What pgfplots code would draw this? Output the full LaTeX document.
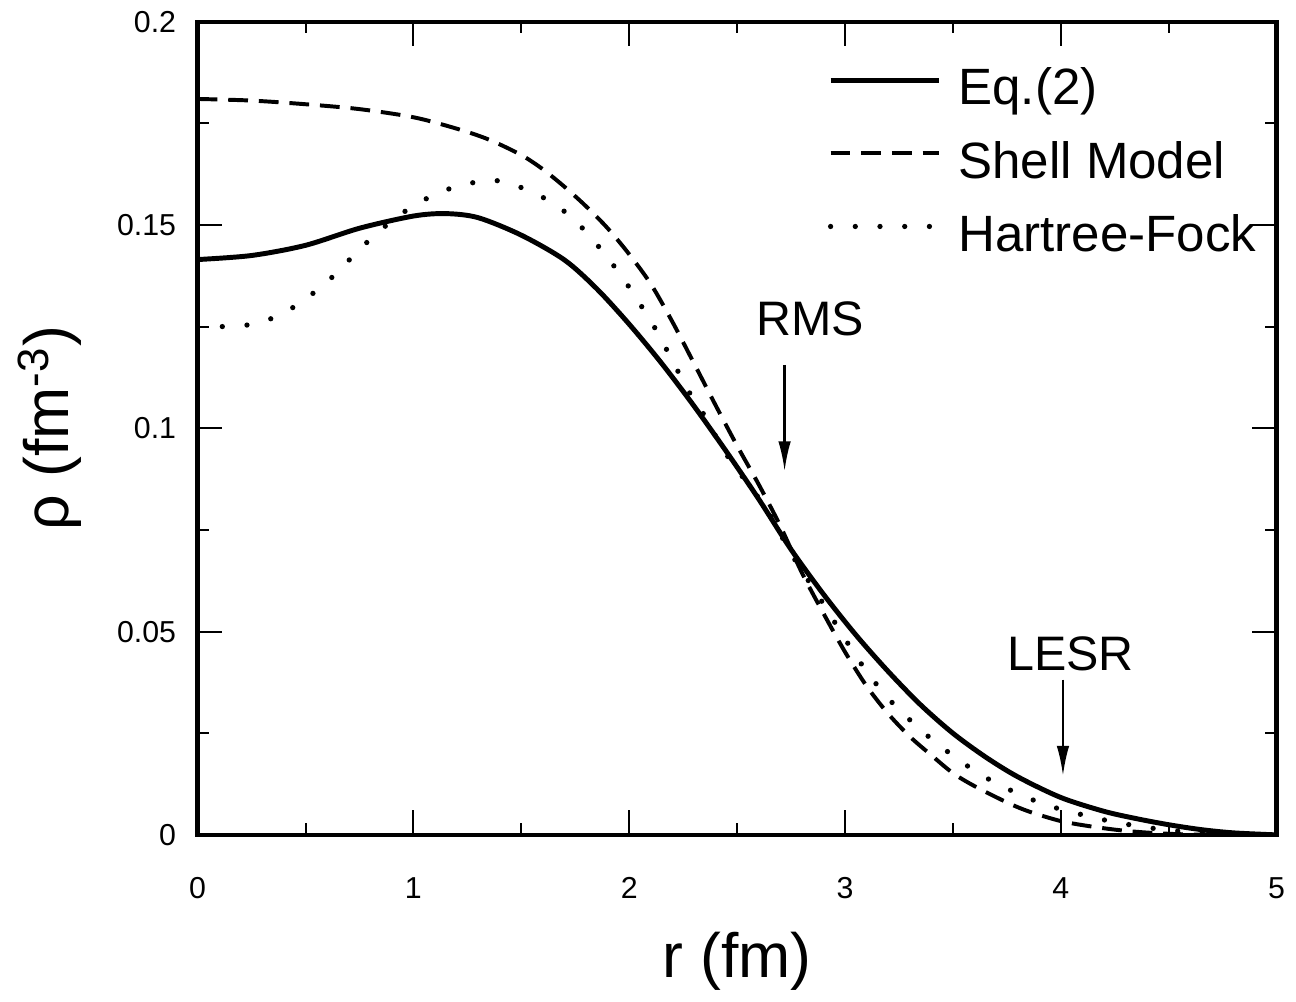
\documentclass[border=0pt]{standalone}
\usepackage{fontspec}
\setmainfont{Liberation Sans}
\usepackage{pgfplots}
\pgfplotsset{compat=1.18}
\usetikzlibrary{arrows.meta}

\pgfplotstableread{
x y
0.00 0.1415
0.25 0.1425
0.50 0.1450
0.75 0.1492
1.00 0.1522
1.15 0.1528
1.30 0.1518
1.50 0.1475
1.70 0.1414
1.85 0.1343
2.00 0.1256
2.15 0.1160
2.30 0.1055
2.45 0.0943
2.60 0.0826
2.75 0.0702
2.90 0.0592
3.05 0.0492
3.20 0.0402
3.35 0.0320
3.50 0.0250
3.65 0.0192
3.80 0.0143
4.00 0.0092
4.20 0.0058
4.35 0.0040
4.50 0.0025
4.65 0.0013
4.80 0.0005
5.00 0.0000
}\eqtwo

\pgfplotstableread{
x y
0.00 0.1810
0.25 0.1806
0.50 0.1797
0.75 0.1785
1.00 0.1765
1.20 0.1737
1.35 0.1710
1.50 0.1672
1.60 0.1637
1.70 0.1594
1.80 0.1546
1.90 0.1492
2.00 0.1428
2.10 0.1355
2.20 0.1262
2.30 0.1160
2.40 0.1057
2.50 0.0957
2.60 0.0862
2.70 0.0760
2.80 0.0645
2.90 0.0545
3.00 0.0450
3.10 0.0366
3.20 0.0298
3.30 0.0242
3.40 0.0196
3.50 0.0152
3.60 0.0120
3.75 0.0080
3.85 0.0058
4.00 0.0034
4.15 0.0020
4.30 0.0010
4.45 0.0004
4.60 0.0001
4.80 0.0000
5.00 0.0000
}\shell

\pgfplotstableread{
x y
0.00 0.1250
0.17 0.1251
0.29 0.1260
0.41 0.1287
0.52 0.1326
0.62 0.1370
0.71 0.1418
0.80 0.1465
0.90 0.1510
1.00 0.1547
1.12 0.1580
1.24 0.1600
1.37 0.1610
1.49 0.1594
1.61 0.1565
1.72 0.1525
1.81 0.1477
1.89 0.1426
1.97 0.1370
2.04 0.1314
2.11 0.1255
2.17 0.1197
2.23 0.1136
2.29 0.1078
2.36 0.1022
2.42 0.0961
2.49 0.0905
2.57 0.0850
2.65 0.0790
2.75 0.0692
2.90 0.0568
3.00 0.0482
3.10 0.0402
3.20 0.0336
3.30 0.0283
3.40 0.0236
3.50 0.0195
3.60 0.0158
3.70 0.0127
3.80 0.0102
3.90 0.0080
4.00 0.0063
4.20 0.0037
4.40 0.0018
4.60 0.0007
4.80 0.0001
5.00 0.0000
}\hf

\begin{document}
\begin{tikzpicture}
\begin{axis}[
  scale only axis,
  width=327.6pt, height=246.9pt,
  xmin=0, xmax=5, ymin=0, ymax=0.2,
  axis line style={line width=1.3pt},
  tick align=inside,
  xtick={0,1,2,3,4,5},
  xticklabels={0,1,2,3,4,5},
  ytick={0,0.05,0.1,0.15,0.2},
  yticklabels={0,0.05,0.1,0.15,0.2},
  minor x tick num=1,
  minor y tick num=1,
  major tick length=7.5pt,
  minor tick length=3.5pt,
  every tick/.style={black, line width=0.6pt},
  scaled ticks=false,
  ticklabel style={font=\fontsize{9.2}{11}\selectfont},
  xticklabel style={anchor=north, yshift=-9.5pt},
  yticklabel style={anchor=east, xshift=-3pt},
  xlabel={r (fm)},
  ylabel={ρ (fm\textsuperscript{-3})},
  label style={font=\fontsize{19}{22}\selectfont},
  xlabel style={at={(axis description cs:0.5,-0.1555)}, anchor=center},
  ylabel style={at={(axis description cs:-0.137,0.5)}, anchor=center},
  legend style={at={(axis cs:2.918,0.1886)}, anchor=north west, draw=none, fill=none,
    inner sep=0pt, row sep=8.2pt, column sep=5pt,
    font=\fontsize{15.5}{18}\selectfont,
    nodes={inner sep=0pt, text height=11pt, text depth=3pt, anchor=west}},
  legend image code/.code={\draw[#1] (0pt,3.5pt) -- (33pt,3.5pt);},
  legend cell align=left,
]
\addplot[black, line width=1.5pt, smooth] table {\eqtwo};
\addlegendentry{Eq.(2)}
\addplot[black, line width=1.2pt, smooth, dash pattern=on 6pt off 3.3pt] table {\shell};
\addlegendentry{Shell Model}
\addplot[black, line width=1.6pt, smooth, line cap=round, dash pattern=on 0pt off 7.5pt] table {\hf};
\addlegendentry{Hartree-Fock}

\node[font=\fontsize{14.7}{17}\selectfont] at (axis cs:2.84,0.127) {RMS};
\draw[line width=0.7pt, -{Latex[length=9pt,width=3.8pt]}] (axis cs:2.72,0.1156) -- (axis cs:2.72,0.0895);
\node[font=\fontsize{14.7}{17}\selectfont] at (axis cs:4.045,0.0445) {LESR};
\draw[line width=0.7pt, -{Latex[length=9pt,width=3.8pt]}] (axis cs:4.01,0.0382) -- (axis cs:4.01,0.0146);
\end{axis}
\path ([xshift=-60pt,yshift=-48.3pt]current axis.south west) rectangle ([xshift=1.2pt,yshift=5.1pt]current axis.north east);
\end{tikzpicture}
\end{document}
